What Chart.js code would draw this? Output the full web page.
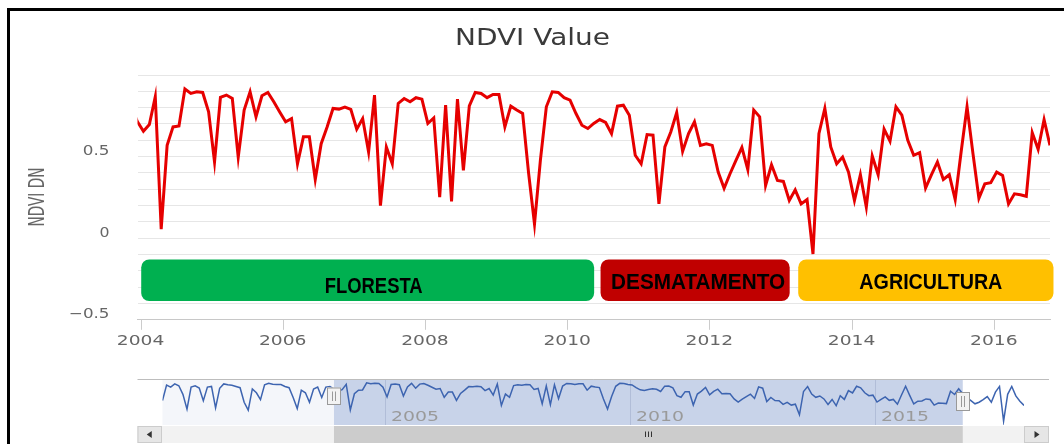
<!DOCTYPE html>
<html><head><meta charset="utf-8">
<script src="https://cdn.jsdelivr.net/npm/chart.js@4.4.1/dist/chart.umd.min.js"></script>
<style>
html,body{margin:0;padding:0;background:#fff;}
#wrap{position:relative;width:1064px;height:444px;overflow:hidden;background:#fff;}
canvas{position:absolute;left:0;}
#main{top:0;}
#nav{top:370px;}
.frame{position:absolute;background:#000;}
</style></head><body>
<div id="wrap">
<canvas id="main" width="1064" height="444"></canvas>
<canvas id="nav" width="1064" height="74"></canvas>
<div class="frame" style="left:7px;top:8px;width:1057px;height:3px"></div>
<div class="frame" style="left:7px;top:8px;width:3px;height:436px"></div>
</div>
<script>
// ---------------- data (monthly values, dated on the 16th) ----------------
const startYear = 2000, startMonth = 6, dayOfMonth = 16;   // first value: 16 Jun 2000
const ndvi2000_2003 = [0.35,0.84,0.78,0.88,0.82,0.55,0.08,0.78,0.82,0.75,0.35,0.78,0.80,0.12,0.74,0.88,0.85,0.84,0.80,0.76,0.30,0.05,0.72,0.60,0.38,0.85,0.90,0.87,0.86,0.86,0.80,0.76,0.45,0.10,0.68,0.60,0.30,0.72,0.78,0.45,0.78,0.80];
// Dec 2003 .. Oct 2016 (range shown in the main plot)
const ndvi2004_2016 = [0.713,0.655,0.696,0.867,0.056,0.569,0.682,0.688,0.914,0.887,0.897,0.893,
0.774,0.467,0.863,0.877,0.856,0.497,0.785,0.897,0.744,0.873,0.893,0.836,
0.774,0.713,0.733,0.456,0.621,0.621,0.360,0.579,0.682,0.795,0.791,0.803,
0.789,0.668,0.733,0.528,0.877,0.200,0.559,0.456,0.826,0.856,0.836,0.861,
0.852,0.703,0.737,0.251,0.815,0.225,0.852,0.415,0.811,0.893,0.887,0.861,
0.881,0.881,0.682,0.809,0.785,0.764,0.400,0.087,0.480,0.805,0.897,0.893,
0.861,0.846,0.764,0.692,0.672,0.703,0.727,0.709,0.641,0.809,0.815,0.754,
0.508,0.456,0.635,0.631,0.210,0.559,0.651,0.770,0.532,0.641,0.713,0.569,
0.579,0.569,0.405,0.306,0.395,0.477,0.556,0.420,0.785,0.744,0.323,0.450,
0.354,0.348,0.231,0.296,0.210,0.237,-0.097,0.641,0.795,0.559,0.456,0.497,
0.405,0.231,0.389,0.190,0.504,0.389,0.668,0.594,0.805,0.754,0.600,0.508,
0.524,0.307,0.389,0.467,0.360,0.389,0.237,0.528,0.805,0.518,0.245,0.333,
0.340,0.405,0.385,0.210,0.272,0.266,0.257,0.647,0.545,0.727,0.569];
// Nov 2016 .. Jan 2018
const ndvi2016_2018 = [0.45,0.35,0.25,0.30,0.38,0.48,0.30,0.62,0.80,-0.30,0.55,0.80,0.50,0.33,0.20];

const xTicks = [2004, 2006, 2008, 2010, 2012, 2014, 2016];
const yTicks = [-0.5,-0.4,-0.3,-0.2,-0.1,0,0.1,0.2,0.3,0.4,0.5,0.6,0.7,0.8,0.9,1.0];
const yLabelTicks = [-0.5, 0, 0.5];
const navTicks = [2005, 2010, 2015];

const phaseNames  = ['FLORESTA', 'DESMATAMENTO', 'AGRICULTURA'];
const phaseStart  = [2004.01, 2010.47, 2013.25];
const phaseEnd    = [2010.38, 2013.13, 2016.84];

// ---------------- styles ----------------
const phaseColors = ['#00b050', '#c00000', '#ffc000'];
const phaseTop = -0.13, phaseBottom = -0.385;
const labelDx = [6, 3, 5], labelDy = [5, 1, 1], labelW = [98, 174, 143];

const values = ndvi2000_2003.concat(ndvi2004_2016, ndvi2016_2018);
const points = values.map((v, i) => ({x: startYear + (startMonth - 1 + i) / 12 + (dayOfMonth - 1) / 365, y: v}));
const firstShown = ndvi2000_2003.length, lastShown = firstShown + ndvi2004_2016.length - 1;
const viewMin = points[firstShown].x, viewMax = points[lastShown].x;   // navigator selection

const DV = '"DejaVu Sans", Verdana, sans-serif';
const LS = '"Liberation Sans", Arial, sans-serif';
function drawFit(ctx, txt, x, y, size, family, weight, color, width, align, rot) {
  ctx.save();
  ctx.font = weight + ' ' + size + 'px ' + family;
  ctx.fillStyle = color;
  ctx.textBaseline = 'alphabetic';
  ctx.textAlign = align;
  const w = ctx.measureText(txt).width;
  ctx.translate(x, y);
  if (rot) ctx.rotate(rot);
  ctx.scale(width ? width / w : 1, 1);
  ctx.fillText(txt, 0, 0);
  ctx.restore();
}

const mainDeco = {
  id: 'mainDeco',
  afterDatasetsDraw(chart) {
    const {ctx, scales: {x, y}} = chart;
    phaseNames.forEach((name, i) => {
      const x0 = x.getPixelForValue(phaseStart[i]), x1 = x.getPixelForValue(phaseEnd[i]);
      const y0 = y.getPixelForValue(phaseTop), y1 = y.getPixelForValue(phaseBottom);
      ctx.save();
      ctx.fillStyle = phaseColors[i];
      ctx.beginPath(); ctx.roundRect(x0, y0, x1 - x0, y1 - y0, 8); ctx.fill();
      ctx.restore();
      const cx = (x0 + x1) / 2 + labelDx[i], cy = (y0 + y1) / 2 + labelDy[i];
      drawFit(ctx, name, cx, cy + 22 * 0.716 / 2, 22, LS, 'bold', '#000', labelW[i], 'center');
    });
  },
  afterDraw(chart) {
    const {ctx, scales: {x, y}} = chart;
    const axisY = y.getPixelForValue(-0.5);
    ctx.save();
    ctx.strokeStyle = '#cccccc'; ctx.lineWidth = 1;
    xTicks.forEach(v => {
      const px = Math.round(x.getPixelForValue(v)) + 0.5;
      ctx.beginPath(); ctx.moveTo(px, axisY); ctx.lineTo(px, axisY + 10); ctx.stroke();
    });
    ctx.restore();
    xTicks.forEach(v => {
      drawFit(ctx, String(v), x.getPixelForValue(v), axisY + 25, 14, DV, 'normal', '#666', 47.5, 'center');
    });
    yLabelTicks.forEach(v => {
      const t = v < 0 ? '\u2212' + String(-v) : String(v);
      const w = t.length === 1 ? 10 : (t.length === 3 ? 26.7 : 40.6);
      drawFit(ctx, t, 109.5, y.getPixelForValue(v) - 1.4, 14, DV, 'normal', '#666', w, 'right');
    });
    drawFit(ctx, 'NDVI Value', 532.5, 45, 23, DV, 'normal', '#3a3a3a', 155, 'center');
    drawFit(ctx, 'NDVI DN', 36 + 7.6, 197, 21, DV, 'normal', '#666', 59, 'center', -Math.PI / 2);
  }
};

new Chart(document.getElementById('main'), {
  type: 'line',
  data: {datasets: [{data: points, borderColor: '#e60000', borderWidth: 3, pointRadius: 0, tension: 0, fill: false}]},
  options: {
    responsive: false, animation: false, events: [],
    layout: {padding: {left: 137.5, right: 14, top: 75, bottom: 124.2}},
    plugins: {legend: {display: false}, tooltip: {enabled: false}, title: {display: false}},
    scales: {
      x: {type: 'linear', min: viewMin, max: viewMax,
          ticks: {display: false}, grid: {display: false, drawTicks: false},
          border: {display: true, color: '#c8c8c8', width: 1}},
      y: {type: 'linear', min: -0.5, max: 1.0,
          afterBuildTicks: s => { s.ticks = yTicks.map(v => ({value: v})); },
          ticks: {display: false}, grid: {color: '#e6e6e6', lineWidth: 1, drawTicks: false},
          border: {display: false}}
    }
  },
  plugins: [mainDeco]
});

const navDeco = {
  id: 'navDeco',
  beforeDatasetsDraw(chart) {
    const {ctx, chartArea: a, scales: {x}} = chart;
    const mL = x.getPixelForValue(viewMin), mR = x.getPixelForValue(viewMax);
    ctx.save();
    ctx.fillStyle = '#f4f6fa';
    ctx.fillRect(a.left, a.top, mL - a.left, a.bottom - a.top);
    ctx.fillStyle = 'rgba(102,133,194,0.36)';
    ctx.fillRect(mL, a.top, mR - mL, a.bottom - a.top);
    ctx.strokeStyle = 'rgba(70,90,140,0.18)'; ctx.lineWidth = 1;
    navTicks.forEach(v => {
      const px = Math.round(x.getPixelForValue(v)) + 0.5;
      ctx.beginPath(); ctx.moveTo(px, a.top); ctx.lineTo(px, a.bottom); ctx.stroke();
    });
    ctx.restore();
    navTicks.forEach(v => {
      drawFit(ctx, String(v), x.getPixelForValue(v) + 6, 51.3, 14, DV, 'normal', '#9a9a9a', 48, 'left');
    });
  },
  afterDatasetsDraw(chart) {
    const {ctx, chartArea: a, scales: {x}} = chart;
    const mL = x.getPixelForValue(viewMin), mR = x.getPixelForValue(viewMax);
    ctx.save();
    ctx.strokeStyle = '#bdbdbd'; ctx.lineWidth = 1;
    ctx.beginPath(); ctx.moveTo(137.5, a.top + 0.5); ctx.lineTo(1049, a.top + 0.5); ctx.stroke();
    [[mL, 17.5, 35], [mR, 22, 41]].forEach(([hx, t, b]) => {
      ctx.fillStyle = '#f2f2f2'; ctx.strokeStyle = '#999';
      ctx.fillRect(Math.round(hx) - 7, t, 14, b - t);
      ctx.strokeRect(Math.round(hx) - 6.5, t + 0.5, 13, b - t - 1);
      ctx.beginPath();
      ctx.moveTo(Math.round(hx) - 1.5, t + 4); ctx.lineTo(Math.round(hx) - 1.5, b - 4);
      ctx.moveTo(Math.round(hx) + 1.5, t + 4); ctx.lineTo(Math.round(hx) + 1.5, b - 4);
      ctx.stroke();
    });
    const sT = 56, sB = 73;
    ctx.fillStyle = '#f2f2f2'; ctx.fillRect(137.5, sT, 1049 - 137.5, sB - sT);
    ctx.fillStyle = '#cccccc'; ctx.fillRect(mL, sT, mR - mL, sB - sT);
    [[137.5, 162], [1024, 1049]].forEach(([b0, b1], k) => {
      ctx.fillStyle = '#e6e6e6'; ctx.fillRect(b0, sT, b1 - b0, sB - sT);
      ctx.strokeStyle = '#cccccc'; ctx.strokeRect(b0 + 0.5, sT + 0.5, b1 - b0 - 1, sB - sT - 1);
      const cx = (b0 + b1) / 2, cy = (sT + sB) / 2;
      ctx.fillStyle = '#333';
      ctx.beginPath();
      if (k === 0) { ctx.moveTo(cx - 3, cy); ctx.lineTo(cx + 2, cy - 3.5); ctx.lineTo(cx + 2, cy + 3.5); }
      else { ctx.moveTo(cx + 3, cy); ctx.lineTo(cx - 2, cy - 3.5); ctx.lineTo(cx - 2, cy + 3.5); }
      ctx.closePath(); ctx.fill();
    });
    const gx = Math.round((mL + mR) / 2);
    ctx.strokeStyle = '#333'; ctx.lineWidth = 1;
    [-3, 0, 3].forEach(d => {
      ctx.beginPath(); ctx.moveTo(gx + d + 0.5, 61.5); ctx.lineTo(gx + d + 0.5, 67); ctx.stroke();
    });
    ctx.restore();
  }
};

new Chart(document.getElementById('nav'), {
  type: 'line',
  data: {datasets: [{data: points, borderColor: '#3d64b0', borderWidth: 1.5, pointRadius: 0, tension: 0, fill: false}]},
  options: {
    responsive: false, animation: false, events: [],
    layout: {padding: {left: 162.5, right: 40, top: 9, bottom: 19}},
    plugins: {legend: {display: false}, tooltip: {enabled: false}},
    scales: {
      x: {type: 'linear', display: false, min: points[0].x, max: points[points.length - 1].x},
      y: {type: 'linear', display: false, min: -0.42, max: 1.035}
    }
  },
  plugins: [navDeco]
});
</script>
</body></html>
